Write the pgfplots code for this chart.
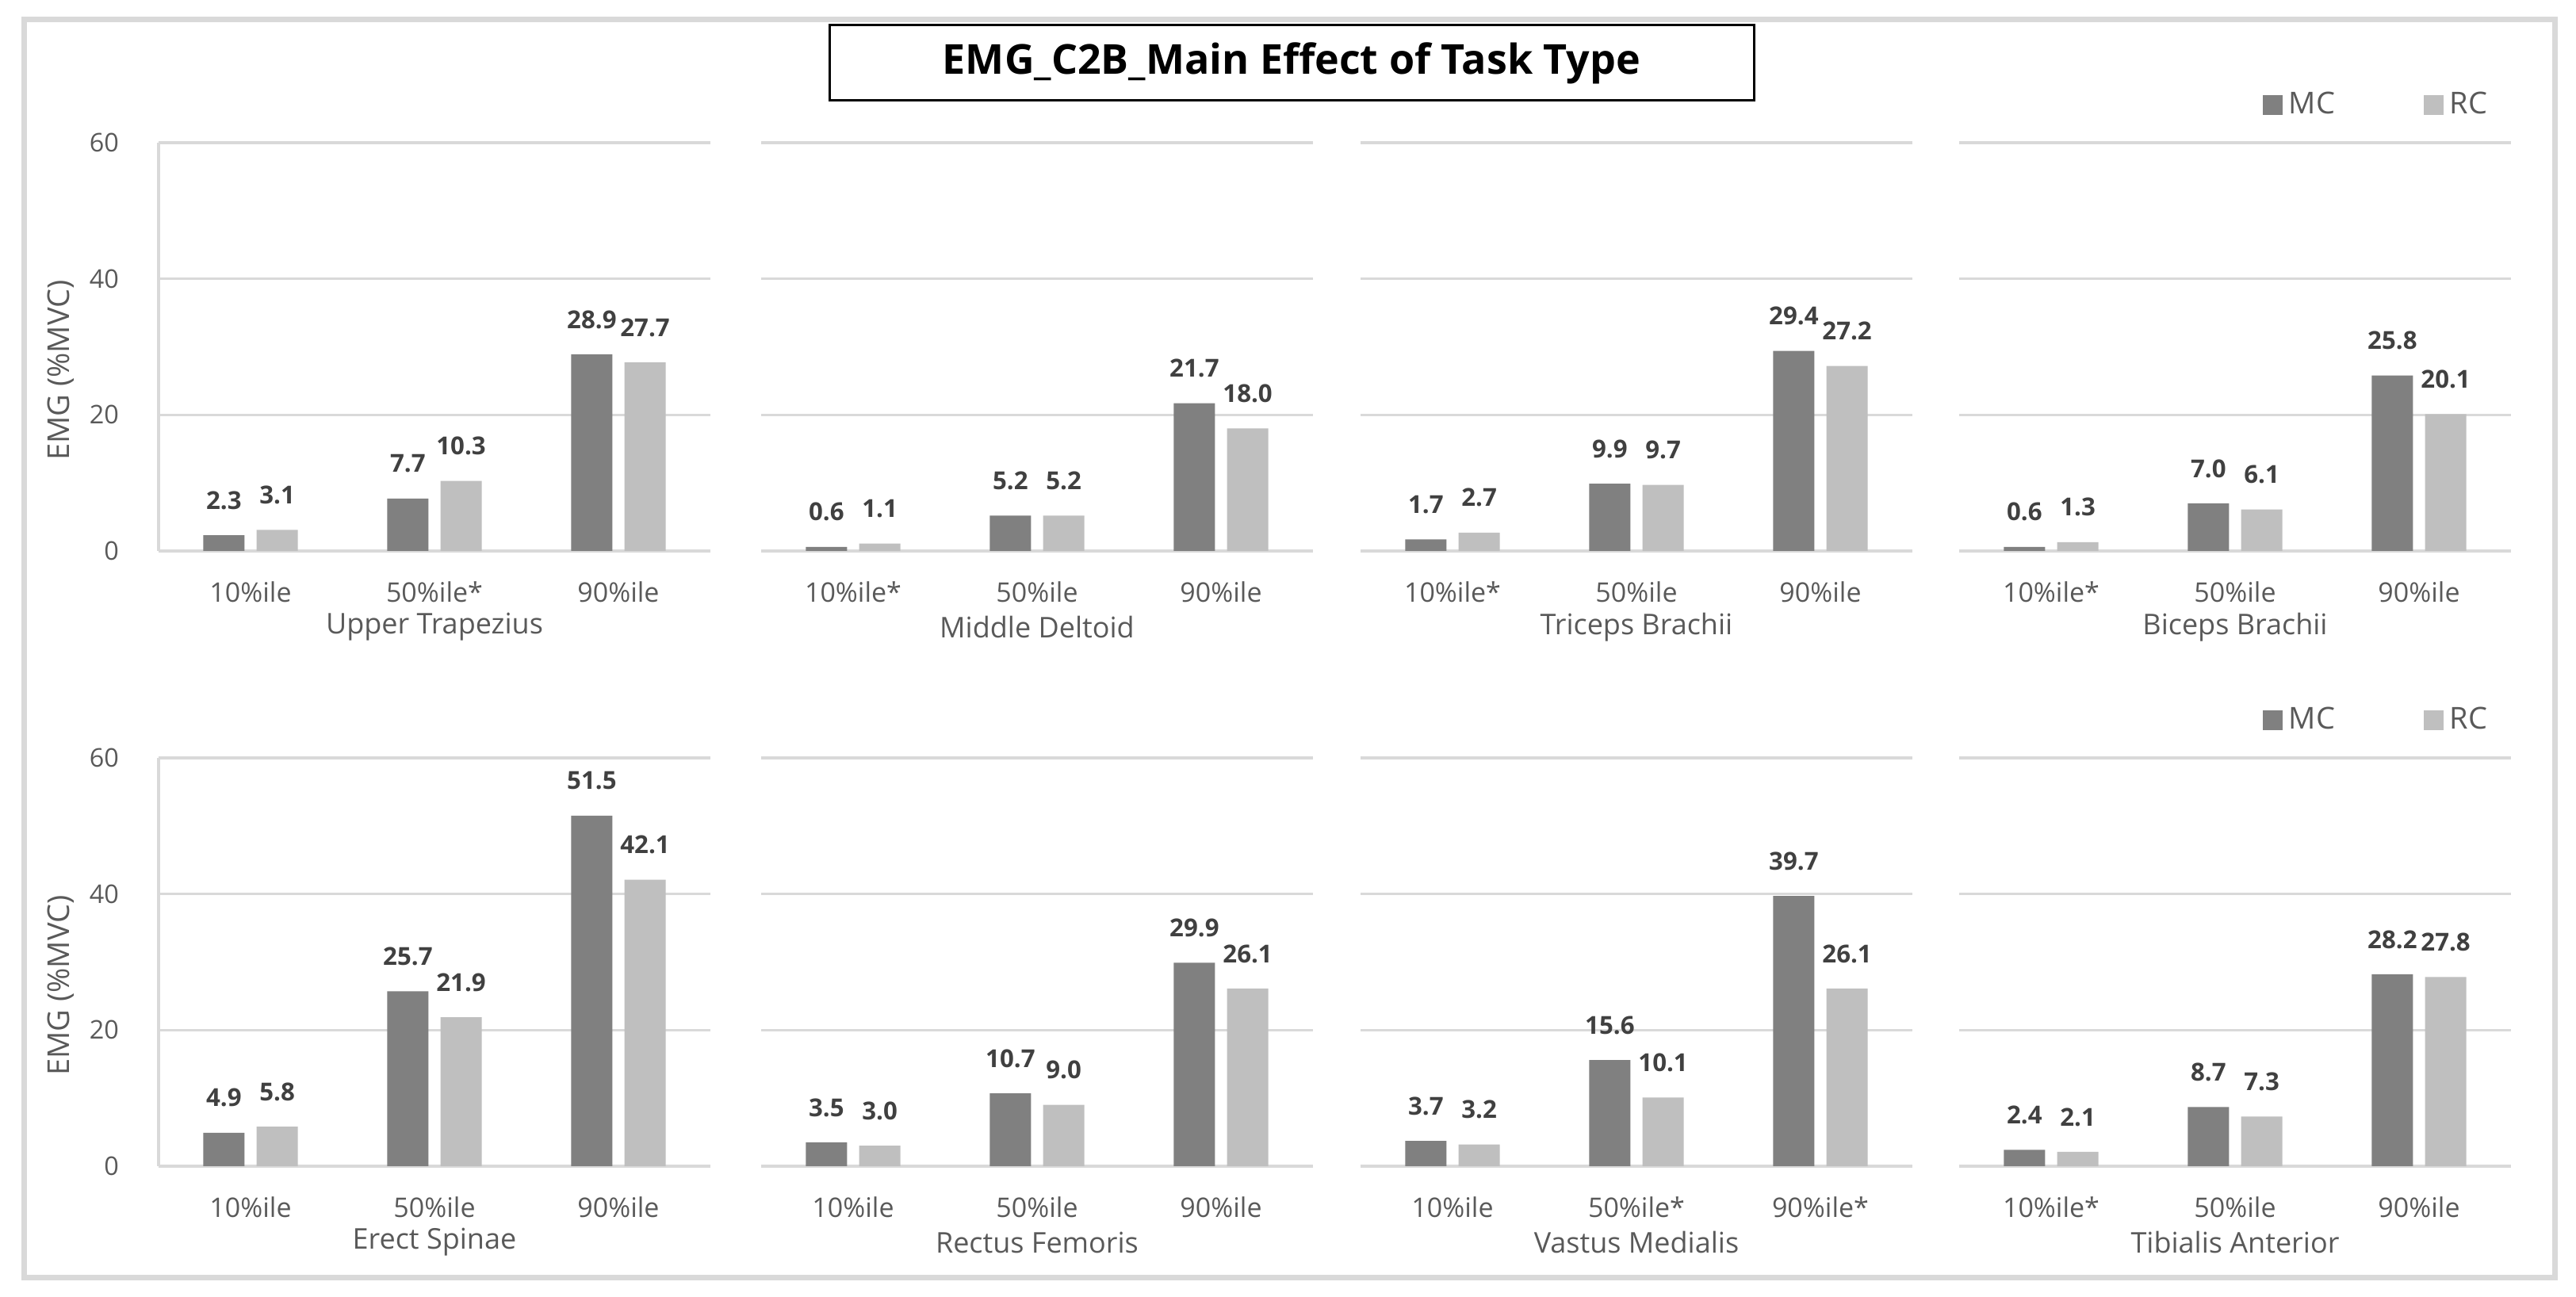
\documentclass[border=0pt]{standalone}
\usepackage{fontspec}
\setmainfont{Open Sans}
\usepackage{pgfplots}
\pgfplotsset{compat=1.18}

\definecolor{mc}{HTML}{808080}
\definecolor{rc}{HTML}{BFBFBF}
\definecolor{gridc}{HTML}{D9D9D9}
\definecolor{txt}{HTML}{595959}
\definecolor{lab}{HTML}{404040}

% 1 px of the reference = 0.25pt
\pgfplotsset{
  sqlegend/.style={legend image code/.code={\fill[##1] (0pt,-3.1pt) rectangle (6.2pt,3.1pt);}},
  emgpanel/.style={
    anchor=south west, scale only axis, width=174pt, height=128.75pt,
    xmin=-0.5, xmax=2.5, ymin=0, ymax=60,
    xtick={0,1,2}, ytick={0,20,40,60},
    ybar, bar width=13pt, enlargelimits=false, clip=false,
    axis line style={draw=none}, major tick length=0pt,
    ymajorgrids, grid style={gridc, line width=0.8pt},
    /pgf/number format/assume math mode=true,
    tick label style={font=\fontsize{8.1}{9.5}\selectfont, text=txt},
    xticklabel style={anchor=center, yshift=-13pt, font=\fontsize{8.5}{10}\selectfont},
    yticklabel style={anchor=east, xshift=-9pt},
    xlabel style={at={(axis description cs:0.5,0)}, anchor=center, yshift=-24pt,
      font=\fontsize{9}{11}\selectfont, text=txt},
    nodes near coords={\pgfmathprintnumber[fixed,fixed zerofill,precision=1,assume math mode=true]{\pgfplotspointmeta}},
    nodes near coords style={font=\bfseries\fontsize{7.8}{9}\selectfont, text=lab, anchor=center, yshift=11pt},
  },
  firstcol/.style={
    ylabel={EMG\ (\%MVC)},
    ylabel style={at={(axis description cs:0,0.443)}, anchor=center, yshift=30.75pt,
      font=\fontsize{9.5}{11}\selectfont, text=txt},
  },
  othercol/.style={yticklabels={}},
  withlegend/.style={
    legend columns=2,
    legend style={draw=none, fill=none, at={(axis description cs:0.532,1.092)}, anchor=west,
      font=\fontsize{9.5}{11}\selectfont, text=txt,
      /tikz/every even column/.append style={column sep=26pt}},
  },
}

% #1 x, #2 y, #3 category labels, #4 muscle, #5 MC, #6 RC, #7 options
\newcommand{\panel}[7]{%
  \begin{axis}[emgpanel, at={(#1,#2)}, xticklabels={#3}, xlabel={#4}, #7]
    \addplot[fill=mc, draw=none, bar shift=-8.4pt, sqlegend] coordinates {#5};
    \addplot[fill=rc, draw=none, bar shift=8.4pt, sqlegend] coordinates {#6};
  \end{axis}}

\begin{document}
\begin{tikzpicture}
  \useasboundingbox (0,0) rectangle (812.25pt,409pt);
  \draw[gridc, line width=1.75pt] (7.5pt,6pt) rectangle (805.5pt,402.75pt);
  \draw[black, line width=0.75pt, fill=white] (261.5pt,377.25pt) rectangle (553pt,401pt);
  \node[font=\bfseries\fontsize{13}{15}\selectfont] at (407.25pt,389.1pt) {EMG\_C2B\_Main Effect of Task Type};

  % top row
  \panel{50pt}{235.25pt}{10\%ile,50\%ile*,90\%ile}{Upper Trapezius}
    {(0,2.3) (1,7.7) (2,28.9)}{(0,3.1) (1,10.3) (2,27.7)}{firstcol}
  \draw[gridc, line width=0.8pt] (50pt,235.25pt) -- (50pt,364pt);
  \panel{240pt}{235.25pt}{10\%ile*,50\%ile,90\%ile}{Middle Deltoid}
    {(0,0.6) (1,5.2) (2,21.7)}{(0,1.1) (1,5.2) (2,18.0)}{othercol}
  \panel{429pt}{235.25pt}{10\%ile*,50\%ile,90\%ile}{Triceps Brachii}
    {(0,1.7) (1,9.9) (2,29.4)}{(0,2.7) (1,9.7) (2,27.2)}{othercol}
  \panel{617.75pt}{235.25pt}{10\%ile*,50\%ile,90\%ile}{Biceps Brachii}
    {(0,0.6) (1,7.0) (2,25.8)}{(0,1.3) (1,6.1) (2,20.1)}{othercol,withlegend,legend entries={MC,RC}}

  % bottom row
  \panel{50pt}{41.25pt}{10\%ile,50\%ile,90\%ile}{Erect Spinae}
    {(0,4.9) (1,25.7) (2,51.5)}{(0,5.8) (1,21.9) (2,42.1)}{firstcol}
  \draw[gridc, line width=0.8pt] (50pt,41.25pt) -- (50pt,170pt);
  \panel{240pt}{41.25pt}{10\%ile,50\%ile,90\%ile}{Rectus Femoris}
    {(0,3.5) (1,10.7) (2,29.9)}{(0,3.0) (1,9.0) (2,26.1)}{othercol}
  \panel{429pt}{41.25pt}{10\%ile,50\%ile*,90\%ile*}{Vastus Medialis}
    {(0,3.7) (1,15.6) (2,39.7)}{(0,3.2) (1,10.1) (2,26.1)}{othercol}
  \panel{617.75pt}{41.25pt}{10\%ile*,50\%ile,90\%ile}{Tibialis Anterior}
    {(0,2.4) (1,8.7) (2,28.2)}{(0,2.1) (1,7.3) (2,27.8)}{othercol,withlegend,legend entries={MC,RC}}
\end{tikzpicture}
\end{document}
